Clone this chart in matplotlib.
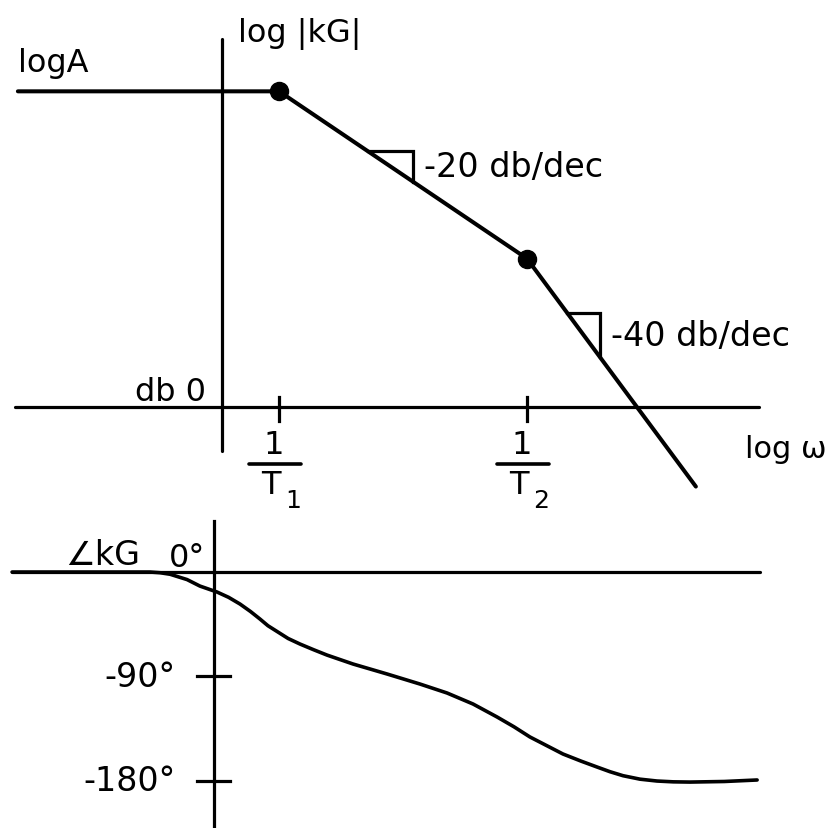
import numpy as np
import matplotlib.pyplot as plt

plt.rcParams['font.family'] = ['DejaVu Sans']

# x is log(omega) in decades, vertical axis sits at 0
w_breaks = [0.235, 1.255]          # log(1/T1), log(1/T2)
break_subs = ['1', '2']
logA = 38.5                        # low frequency level, dB
slopes = [-20, -40]                # db/dec after each corner
slope_labels = ['-20 db/dec', '-40 db/dec']
tri_start = [0.60, 1.42]           # where the slope triangles sit
tri_width = [0.185, 0.136]
w_left = -0.84
w_end = 1.95
db_axis = [-0.85, 2.21]            # extent of the 0 db line
mag_vaxis = [-5.4, 44.9]           # extent of the |kG| axis

phase_w = [-0.831, -0.45, -0.263, -0.222, -0.181, -0.111, -0.058, 0.012, 0.060, 0.107,
           0.150, 0.189, 0.222, 0.259, 0.305, 0.354, 0.410, 0.465, 0.572, 0.712,
           0.848, 0.959, 1.066, 1.165, 1.235, 1.300, 1.436, 1.510, 1.576, 1.630,
           1.683, 1.753, 1.823, 1.890, 1.959, 2.10, 2.235]
phase_deg = [0, 0, 0, -0.6, -1.9, -6.5, -12.1, -17.2, -21.8, -27.6,
             -34.0, -40.5, -46.3, -51.2, -57.3, -62.1, -67.0, -71.6, -79.3, -87.9,
             -96.6, -104.3, -113.8, -125.0, -133.5, -142.2, -156.9, -163.0, -168.1, -172.2,
             -175.6, -178.6, -180.2, -180.9, -181.1, -180.6, -179.3]
phase_axis = [-0.83, 2.245]        # extent of the 0 deg line
phase_vaxis = [44.0, -221.0]
phase_ticks = [-90, -180]
phase_ticklabels = ['-90°', '-180°']

xlim = (-0.9136, 2.502)
fs = 23
lw_axis = 2.3
lw_curve = 2.9

fig = plt.figure(figsize=(8.3, 8.29), dpi=100)
ax1 = fig.add_axes([0, 0.3727, 1, 0.6273])
ax2 = fig.add_axes([-8 / 830, 0, 1, 0.3727])
for ax in (ax1, ax2):
    ax.set_xlim(*xlim)
    ax.axis('off')
ax1.set_ylim(-13.66, 49.76)
ax2.set_ylim(-220.7, 45.7)

# ---- magnitude plot ----
ax1.plot(db_axis, [0, 0], color='k', lw=lw_axis, solid_capstyle='round')
ax1.plot([0, 0], mag_vaxis, color='k', lw=lw_axis, solid_capstyle='round')

m1 = logA
m2 = logA + slopes[0] * (w_breaks[1] - w_breaks[0])
m_end = m2 + slopes[1] * (w_end - w_breaks[1])
ax1.plot([w_left, w_breaks[0], w_breaks[1], w_end], [m1, m1, m2, m_end],
         color='k', lw=lw_curve, solid_capstyle='round', solid_joinstyle='round')
ax1.plot(w_breaks, [m1, m2], 'o', color='k', ms=13)


def mag(w):
    if w <= w_breaks[0]:
        return logA
    if w <= w_breaks[1]:
        return logA + slopes[0] * (w - w_breaks[0])
    return m2 + slopes[1] * (w - w_breaks[1])


# slope triangles and their labels
for x0, dw, lab in zip(tri_start, tri_width, slope_labels):
    ya, yb = mag(x0), mag(x0 + dw)
    ax1.plot([x0, x0 + dw, x0 + dw], [ya, ya, yb], color='k', lw=lw_axis,
             solid_joinstyle='miter')
    ax1.text(x0 + dw + 0.045, (ya + yb) / 2, lab, fontsize=fs + 1,
             ha='left', va='center')

# corner frequency ticks and 1/T labels
for w, sub in zip(w_breaks, break_subs):
    ax1.plot([w, w], [1.2, -1.7], color='k', lw=lw_axis)
    ax1.text(w - 0.022, -4.6, '1', fontsize=fs, ha='center', va='center')
    ax1.plot([w - 0.125, w + 0.09], [-6.95, -6.95], color='k', lw=lw_axis + 0.3,
             solid_capstyle='round')
    ax1.text(w - 0.033, -9.5, 'T', fontsize=fs, ha='center', va='center')
    ax1.text(w + 0.025, -11.3, sub, fontsize=fs - 5, ha='left', va='center')

ax1.text(w_left, 41.0, 'logA', fontsize=fs, ha='left', va='baseline')
ax1.text(0.066, 44.6, 'log |kG|', fontsize=fs, ha='left', va='baseline')
ax1.text(-0.065, 0.8, 'db 0', fontsize=fs, ha='right', va='baseline')
ax1.text(2.152, -6.1, 'log ω', fontsize=fs - 1, ha='left', va='baseline')

# ---- phase plot ----
ax2.plot(phase_axis, [0, 0], color='k', lw=lw_axis, solid_capstyle='round')
ax2.plot([0, 0], phase_vaxis, color='k', lw=lw_axis)
for t, lab in zip(phase_ticks, phase_ticklabels):
    ax2.plot([-0.07, 0.066], [t, t], color='k', lw=lw_axis)
    ax2.text(-0.16, t, lab, fontsize=fs + 1, ha='right', va='center')
ax2.plot(phase_w, phase_deg, color='k', lw=2.6, solid_capstyle='round',
         solid_joinstyle='round')
ax2.text(-0.613, 6.9, '∠kG', fontsize=fs + 1, ha='left', va='baseline')
ax2.text(-0.185, 5.2, '0°', fontsize=fs, ha='left', va='baseline')

fig.savefig('out.png', dpi=100, facecolor='white')
